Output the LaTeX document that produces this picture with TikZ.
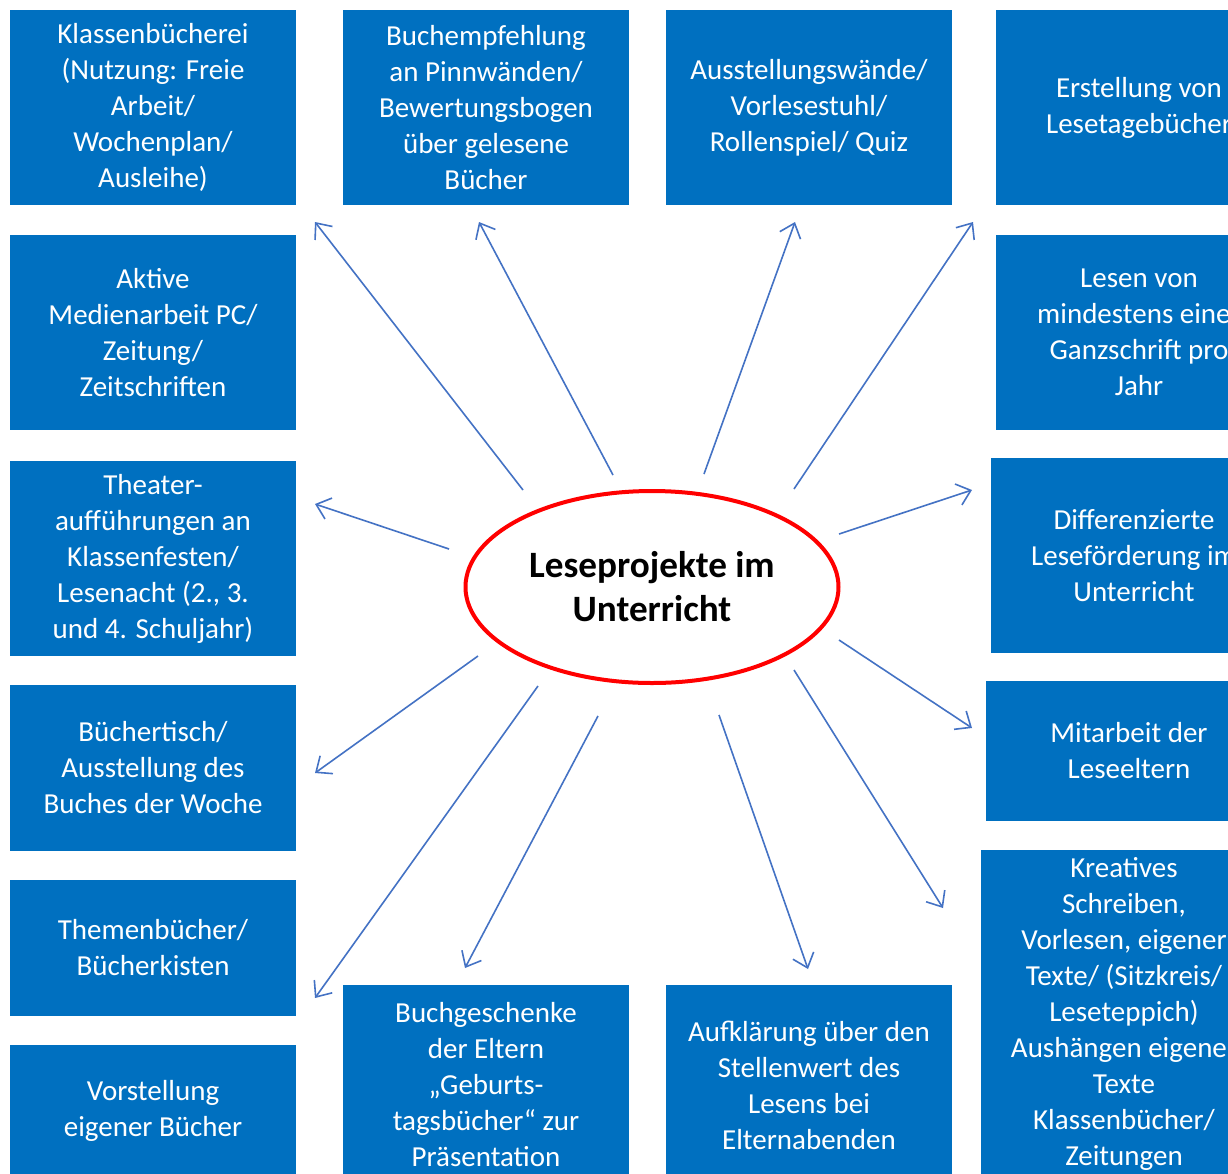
\documentclass[tikz,border=0pt]{standalone}
\usepackage{fontspec}
\setmainfont{Carlito}
\usetikzlibrary{arrows.meta,shapes.geometric}
\definecolor{boxblue}{RGB}{0,112,192}
\definecolor{spokeblue}{RGB}{68,114,196}
\tikzset{
  card/.style={fill=boxblue, text=white, align=center, inner sep=0pt,
    minimum width=143pt, minimum height=97.5pt, font=\fontsize{14.5}{18}\selectfont},
  hub/.style={ellipse, draw=red, line width=2pt, minimum width=186.5pt,
    minimum height=96pt, align=center, font=\bfseries\fontsize{18.6}{22}\selectfont},
  spoke/.style={draw=spokeblue, line width=0.8pt, -{Straight Barb[length=6.5pt,width=11pt]}}
}

\begin{document}
\begin{tikzpicture}[x=0.5pt,y=-0.5pt]
    \useasboundingbox (0,0) rectangle (1228,1174);
    \fill[white] (0,0) rectangle (1228,1174);
    \clip (0,0) rectangle (1228,1174);

    \node[card] (kb) at (153,107.5) {Klassenbücherei\\(Nutzung: Freie\\Arbeit/\\Wochenplan/\\Ausleihe)};
    \node[card] (am) at (153,332.5) {Aktive\\Medienarbeit PC/\\Zeitung/\\Zeitschriften};
    \node[card] (th) at (153,558.5) {Theater-\\aufführungen an\\Klassenfesten/\\Lesenacht (2., 3.\\und 4. Schuljahr)};
    \node[card, minimum height=83pt] (bt) at (153,768) {Büchertisch/\\Ausstellung des\\Buches der Woche};
    \node[card, minimum height=68pt] (tb) at (153,948) {Themenbücher/\\Bücherkisten};
    \node[card, minimum height=65.5pt] (vb) at (153,1110.5) {Vorstellung\\eigener Bücher};

    \node[card] (be) at (486,107.5) {Buchempfehlung\\an Pinnwänden/\\Bewertungsbogen\\über gelesene\\Bücher};
    \node[card] (aw) at (809,107.5) {Ausstellungswände/\\Vorlesestuhl/\\Rollenspiel/ Quiz};
    \node[card] (lt) at (1139,107.5) {Erstellung von\\Lesetagebücher};

    \node[card] (lg) at (1139,332.5) {Lesen von\\mindestens einer\\Ganzschrift pro\\Jahr};
    \node[card] (dl) at (1134,555.5) {Differenzierte\\Leseförderung im\\Unterricht};
    \node[card, minimum height=70pt] (ml) at (1129,751) {Mitarbeit der\\Leseeltern};
    \node[card, minimum height=164pt] (ks) at (1124,1014) {Kreatives\\Schreiben,\\Vorlesen, eigener\\Texte/ (Sitzkreis/\\Leseteppich)\\Aushängen eigener\\Texte\\Klassenbücher/\\Zeitungen};

    \node[card, minimum height=100pt] (bg) at (486,1085) {Buchgeschenke\\der Eltern\\„Geburts-\\tagsbücher“ zur\\Präsentation};
    \node[card, minimum height=100pt] (ae) at (809,1085) {Aufklärung über den\\Stellenwert des\\Lesens bei\\Elternabenden};

    \node[hub] (lp) at (652,587) {Leseprojekte im\\Unterricht};

    \foreach \n/\ax/\ay/\zx/\zy in {kb/523/490/315/222, be/613/475/479/222,
        aw/704/474/795/222, lt/794/489/973/222, dl/839/534/972/490,
        ml/839/640/972/728, ks/794/670/943/908, ae/719/715/808/969,
        bg/598/716/465/968, tb/538/686/315/998, bt/478/656/315/773,
        th/449/549/315/504}{
      \coordinate (\n-from) at (\ax,\ay);
      \coordinate (\n-to) at (\zx,\zy);
      \draw[spoke] (\n-from) -- (\n-to);
    }
\end{tikzpicture}
\end{document}
